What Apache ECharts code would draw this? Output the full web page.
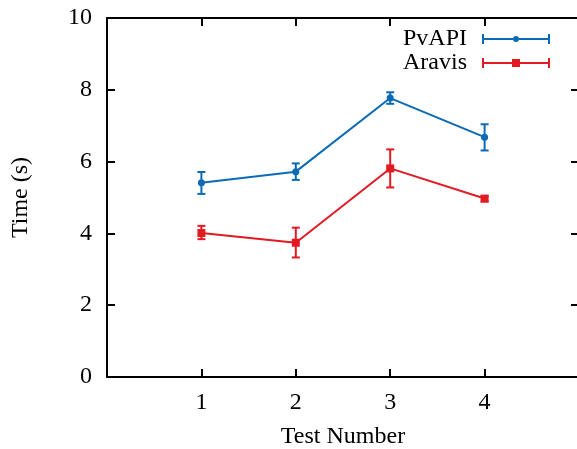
<!DOCTYPE html>
<html>
<head>
<meta charset="utf-8">
<script src="https://cdn.jsdelivr.net/npm/echarts@6/dist/echarts.min.js"></script>
<style>
  html, body { margin: 0; padding: 0; background: #fff; }
  #main { width: 577px; height: 449px; }
</style>
</head>
<body>
<div id="main"></div>
<script>
const tests = [1, 2, 3, 4]
const pvapiMean = [5.41, 5.72, 7.77, 6.68]
const pvapiLow = [5.10, 5.49, 7.61, 6.31]
const pvapiHigh = [5.71, 5.95, 7.93, 7.04]
const aravisMean = [4.01, 3.74, 5.81, 4.97]
const aravisLow = [3.84, 3.33, 5.28, 4.89]
const aravisHigh = [4.21, 4.16, 6.34, 5.04]

const blue = '#0a6ab6'
const red = '#e21a22'
const font = 'Liberation Serif'

// legend icons: bar with end caps and the marker in the middle
const pvIcon = 'path://M0 0H2V4H31V6H2V10H0Z M37 4H66V0H68V10H66V6H37Z M31 5A3 3 0 1 1 37 5A3 3 0 1 1 31 5Z'
const arIcon = 'path://M0 0H2V4H30V6H2V10H0Z M38 4H66V0H68V10H66V6H38Z M30 1H38V9H30Z'

function errorBars(color) {
  return function (params, api) {
    const x = api.value(0)
    const lo = api.coord([x, api.value(1)])
    const hi = api.coord([x, api.value(2)])
    const half = 4
    const style = { stroke: color, lineWidth: 2 }
    return {
      type: 'group',
      children: [
        { type: 'line', shape: { x1: lo[0], y1: lo[1], x2: hi[0], y2: hi[1] }, style },
        { type: 'line', shape: { x1: lo[0] - half, y1: lo[1], x2: lo[0] + half, y2: lo[1] }, style },
        { type: 'line', shape: { x1: hi[0] - half, y1: hi[1], x2: hi[0] + half, y2: hi[1] }, style }
      ]
    }
  }
}

const axisLine = { show: true, onZero: false, lineStyle: { color: '#000', width: 2 } }
const tick = { show: true, inside: true, length: 8, lineStyle: { color: '#000', width: 2 } }
const label = { fontFamily: font, fontSize: 24, color: '#000' }

const chart = echarts.init(document.getElementById('main'), null, { renderer: 'canvas' })

chart.setOption({
  animation: false,
  textStyle: { fontFamily: font, color: '#000' },
  grid: { left: 107, top: 18, width: 472, height: 359, containLabel: false, outerBoundsMode: 'none' },
  legend: {
    orient: 'vertical',
    right: 27,
    top: 27,
    padding: 0,
    align: 'right',
    itemGap: 0,
    itemWidth: 68,
    itemHeight: 10,
    textStyle: Object.assign({ padding: [0, 10, 0, 0] }, label),
    data: [
      { name: 'PvAPI', icon: pvIcon },
      { name: 'Aravis', icon: arIcon }
    ]
  },
  xAxis: [
    {
      type: 'value', min: 0, max: 5, interval: 1,
      name: 'Test Number', nameLocation: 'middle', nameGap: 48,
      nameTextStyle: label,
      axisLine, axisTick: tick, splitLine: { show: false },
      axisLabel: Object.assign({
        margin: 14,
        formatter: v => (v >= 1 && v <= 4 ? String(v) : '')
      }, label)
    },
    {
      type: 'value', position: 'top', min: 0, max: 5, interval: 1,
      axisLine, axisTick: tick, splitLine: { show: false }, axisLabel: { show: false }
    }
  ],
  yAxis: [
    {
      type: 'value', min: 0, max: 10, interval: 2,
      name: 'Time (s)', nameLocation: 'middle', nameGap: 74, nameRotate: 90,
      nameTextStyle: label,
      axisLine, axisTick: tick, splitLine: { show: false },
      axisLabel: Object.assign({ margin: 15 }, label)
    },
    {
      type: 'value', position: 'right', min: 0, max: 10, interval: 2,
      axisLine, axisTick: tick, splitLine: { show: false }, axisLabel: { show: false }
    }
  ],
  series: [
    {
      name: 'PvAPI', type: 'line',
      data: tests.map((t, i) => [t, pvapiMean[i]]),
      symbol: 'circle', symbolSize: 7,
      itemStyle: { color: blue },
      lineStyle: { color: blue, width: 2 },
      z: 3
    },
    {
      name: 'Aravis', type: 'line',
      data: tests.map((t, i) => [t, aravisMean[i]]),
      symbol: 'rect', symbolSize: 8,
      itemStyle: { color: red },
      lineStyle: { color: red, width: 2 },
      z: 3
    },
    {
      name: 'PvAPI', type: 'custom',
      renderItem: errorBars(blue),
      encode: { x: 0, y: [1, 2] },
      data: tests.map((t, i) => [t, pvapiLow[i], pvapiHigh[i]]),
      z: 2
    },
    {
      name: 'Aravis', type: 'custom',
      renderItem: errorBars(red),
      encode: { x: 0, y: [1, 2] },
      data: tests.map((t, i) => [t, aravisLow[i], aravisHigh[i]]),
      z: 2
    }
  ]
})
</script>
</body>
</html>
